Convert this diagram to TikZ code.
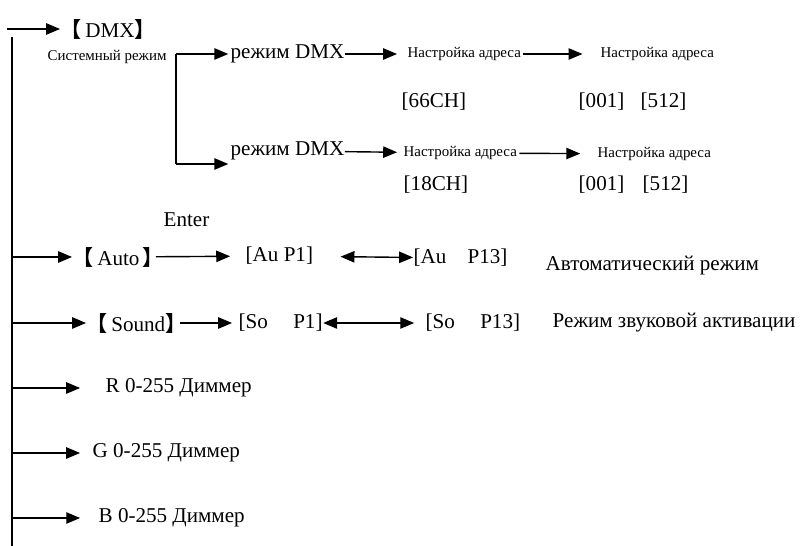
\documentclass[tikz,border=0pt]{standalone}
\usepackage{fontspec}
\setmainfont{Liberation Serif}
\newfontfamily\cjk{Noto Sans CJK SC}[BoldFont={Noto Sans CJK SC Bold}]
\usepackage{tikz}
\usetikzlibrary{arrows}

\newcommand{\lbr}{{\cjk\bfseries 【}}
\newcommand{\rbr}{{\cjk\bfseries 】}}

\begin{document}
\begin{tikzpicture}[x=0.02cm,y=-0.02cm,line width=0.8pt,>=triangle 45,
  txt/.style={anchor=west,inner sep=0pt,font=\fontsize{12}{14}\selectfont},
  small txt/.style={anchor=west,inner sep=0pt,font=\fontsize{8.5}{10}\selectfont}]
  \useasboundingbox (0,0) rectangle (806,546);

  \node[txt] (dmx) at (60,29) {\lbr\,DMX\rbr};
  \node[small txt] (sys) at (47,57) {Системный режим};
  \node[txt] (rd1) at (230,54) {режим DMX};
  \node[small txt] (na1) at (407,54) {Настройка адреса};
  \node[small txt] (nb1) at (600,54) {Настройка адреса};
  \node[txt] (ch66) at (401,102) {[66CH]};
  \node[txt] (a001) at (578,102) {[001]};
  \node[txt] (a512) at (640,102) {[512]};
  \node[txt] (rd2) at (230,151) {режим DMX};
  \node[small txt] (na2) at (403,153) {Настройка адреса};
  \node[small txt] (nb2) at (597,154) {Настройка адреса};
  \node[txt] (ch18) at (403,185) {[18CH]};
  \node[txt] (b001) at (578,185) {[001]};
  \node[txt] (b512) at (642,185) {[512]};
  \node[txt] (enter) at (163,220) {Enter};
  \node[txt] (auto) at (72,257) {\lbr\,Auto\,\rbr};
  \node[txt] (aup1) at (245,256) {[Au P1]};
  \node[txt] (aup13) at (413,258) {[Au\quad P13]};
  \node[txt] (autom) at (545,266) {Автоматический режим};
  \node[txt] (sound) at (86,323) {\lbr\,Sound\rbr};
  \node[txt] (sop1) at (238,323) {[So\hspace*{1.2em}P1]};
  \node[txt] (sop13) at (425,323) {[So\hspace*{1.2em}P13]};
  \node[txt] (sndm) at (552,323) {Режим звуковой активации};
  \node[txt] (rdim) at (105,388) {R 0-255 Диммер};
  \node[txt] (gdim) at (92,453) {G 0-255 Диммер};
  \node[txt] (bdim) at (98,518) {B 0-255 Диммер};

  \coordinate (t0) at (7,29);
  \coordinate (t1) at (12,37);
  \coordinate (t2) at (12,546);
  \coordinate (t3) at (12,257);
  \coordinate (t4) at (12,323);
  \coordinate (t5) at (12,388);
  \coordinate (t6) at (12,453);
  \coordinate (t7) at (12,518);
  \coordinate (s1) at (176,54);
  \coordinate (s2) at (176,164);

  \draw (t1) -- (t2);
  \draw (s1) -- (s2);
  \path[->]
    (t0) edge (dmx)
    (s1) edge[shorten >=1pt] (rd1)
    (s2) edge[shorten >=1pt] (rd2.west |- s2)
    (rd1) edge[shorten >=5.7pt] (na1)
    (na1) edge[shorten <=1pt,shorten >=10pt] (nb1)
    (rd2) edge[shorten >=3.4pt] (na2)
    (na2) edge[shorten <=1pt,shorten >=9.6pt] (nb2)
    (t3) edge (auto)
    (auto) edge[shorten <=-5pt,shorten >=8.5pt] (aup1)
    (t4) edge (sound)
    (sound) edge[shorten <=-4pt,shorten >=3.4pt] (sop1)
    (t5) edge[shorten >=14.2pt] (rdim)
    (t6) edge[shorten >=6.8pt] (gdim)
    (t7) edge[shorten >=10.2pt] (bdim);
  \path[<->]
    (aup1) edge[shorten <=15.3pt] (aup13)
    (sop1) edge[shorten >=6.2pt] (sop13);
\end{tikzpicture}
\end{document}
